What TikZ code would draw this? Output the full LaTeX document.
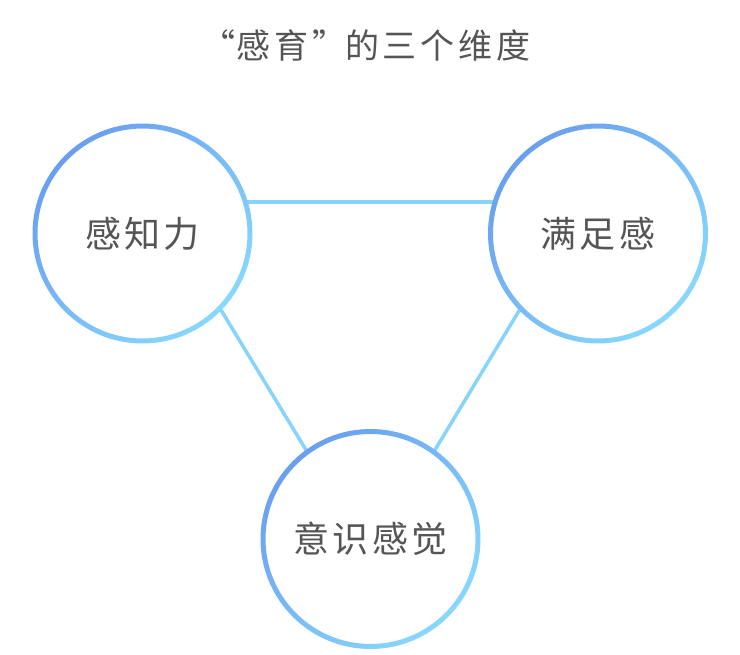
\documentclass[tikz,border=0pt]{standalone}
\usepackage{fontspec}
\setmainfont{Noto Sans CJK SC}
\definecolor{ringdark}{HTML}{6A9FF0}
\definecolor{ringlight}{HTML}{88D8FD}
\definecolor{linkcol}{HTML}{86D4FB}
\definecolor{txt}{HTML}{555555}
\tikzset{
  dim/.style={circle, minimum size=215pt, inner sep=0pt, fill=white, text=txt,
              font=\fontsize{36pt}{42pt}\selectfont},
  link/.style={draw=linkcol, line width=3.5pt},
}
\newcommand{\ring}[1]{%
  \shade[even odd rule, top color=ringdark, bottom color=ringlight, shading angle=45]
    (#1) circle (110pt) (#1) circle (105pt);}
\newcommand{\gp}{\hspace{3.5pt}}
\newcommand{\tg}{\hspace{4pt}}
\begin{document}
\begin{tikzpicture}[x=1pt,y=-1pt]
\useasboundingbox (0,0) rectangle (740,655);
\node[text=txt, font=\fontsize{34pt}{40pt}\selectfont] (title) at (366,45)
  {“\hspace{2pt}感\tg 育\tg ”\hspace{-2pt}的\tg 三\tg 个\tg 维\tg 度};
\coordinate (cL) at (142.5,233.5);
\coordinate (cR) at (598,233.5);
\coordinate (cB) at (370.5,539);
\node[dim] (L) at (cL) {感\gp 知\gp 力};
\node[dim] (R) at (cR) {满\gp 足\gp 感};
\node[dim] (B) at (cB) {意\gp 识\gp 感\gp 觉};
\path[link] (L.17) -- (R.163);
\path[link] (L.-44) -- (B.126);
\path[link] (R.-136) -- (B.54);
\ring{cL}
\ring{cR}
\ring{cB}
\end{tikzpicture}
\end{document}
